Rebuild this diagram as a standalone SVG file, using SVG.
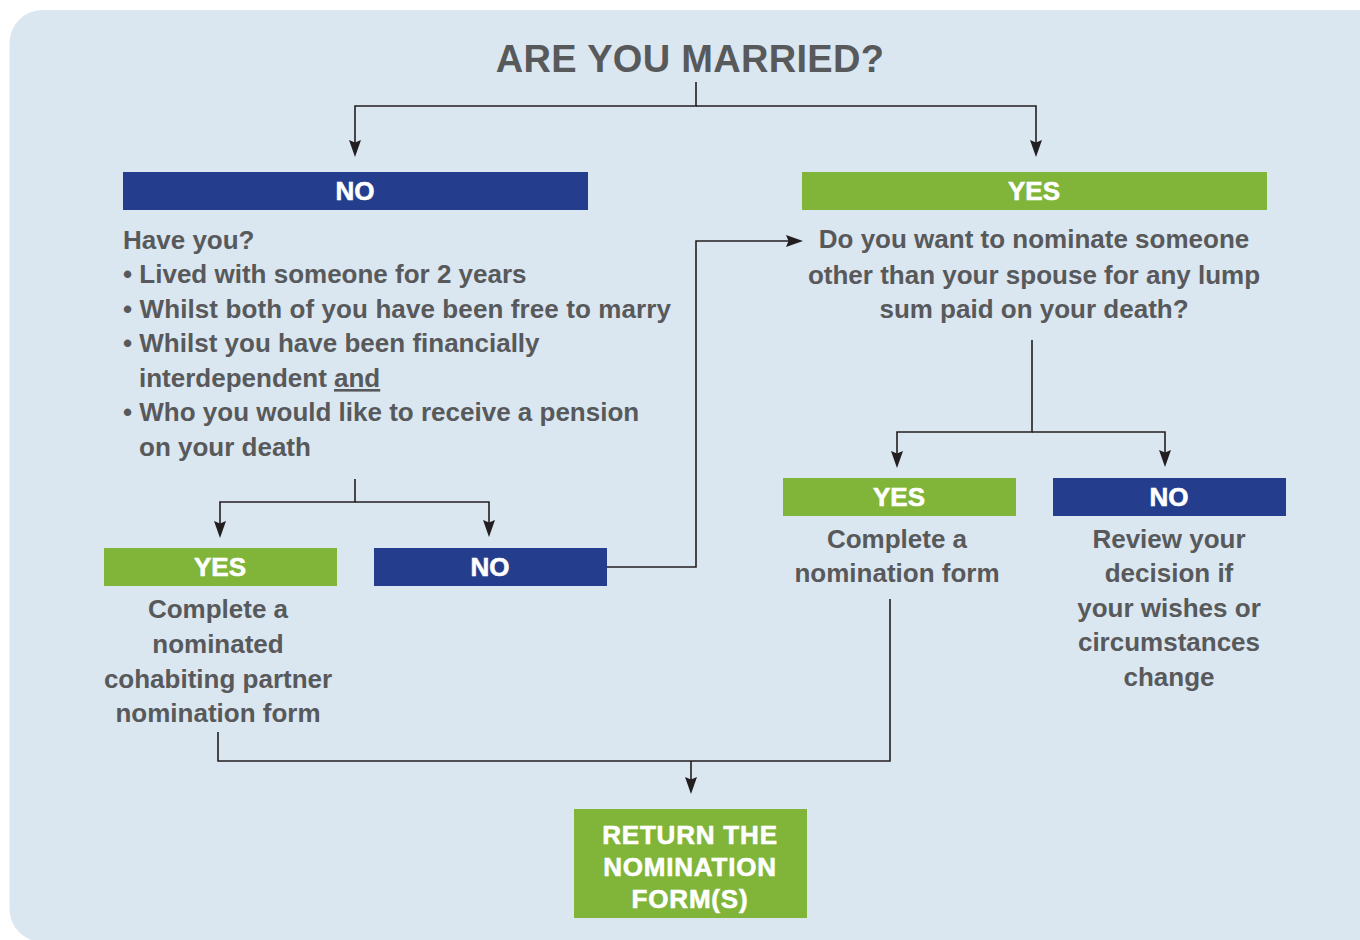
<svg xmlns="http://www.w3.org/2000/svg" width="1360" height="940" viewBox="0 0 1360 940">
<defs>
<style>
.bg{fill:#dae6f0}
.t{font-family:"Liberation Sans",Arial,Helvetica,sans-serif;font-weight:bold;fill:#58595b;font-size:26px}
.c{text-anchor:middle}
.lbl{font-family:"Liberation Sans",Arial,Helvetica,sans-serif;font-weight:bold;fill:#ffffff;stroke:#ffffff;stroke-width:0.6;font-size:26px;text-anchor:middle}
.blue{fill:#243e8d}
.green{fill:#80b539}
.ln{fill:none;stroke:#231f20;stroke-width:1.6}
</style>
<marker id="ah" markerUnits="userSpaceOnUse" markerWidth="17" markerHeight="13" viewBox="0 0 17 13" refX="8" refY="6.5" orient="auto">
<path d="M0,0.5 L17,6.5 L0,12.5 L2.5,6.5 z" fill="#231f20"/>
</marker>
</defs>
<rect class="bg" x="9.5" y="10" width="1380" height="932" rx="33" ry="33"/>

<g id="title">
<text class="t c" x="690" y="72" style="font-size:38px;letter-spacing:0.3px">ARE YOU MARRIED?</text>
</g>

<g id="connectors">
<path class="ln" d="M696,82 V106 H355 V148" marker-end="url(#ah)"/>
<path class="ln" d="M696,106 H1036 V148" marker-end="url(#ah)"/>
<path class="ln" d="M355,479 V502 H220 V529" marker-end="url(#ah)"/>
<path class="ln" d="M355,502 H489 V528" marker-end="url(#ah)"/>
<path class="ln" d="M607,567 H696 V241 H794" marker-end="url(#ah)"/>
<path class="ln" d="M1032,340 V432 H897 V459" marker-end="url(#ah)"/>
<path class="ln" d="M1032,432 H1165 V458" marker-end="url(#ah)"/>
<path class="ln" d="M218,732 V761 H890 V599"/>
<path class="ln" d="M691,761 V785" marker-end="url(#ah)"/>
</g>

<g id="no-married">
<rect class="blue" x="123" y="172" width="465" height="38"/>
<text class="lbl" x="355" y="200">NO</text>
</g>

<g id="have-you">
<text class="t" x="123" y="249">Have you?</text>
<text class="t" x="123" y="283">• Lived with someone for 2 years</text>
<text class="t" x="123" y="318" style="letter-spacing:0.1px">• Whilst both of you have been free to marry</text>
<text class="t" x="123" y="352">• Whilst you have been financially</text>
<text class="t" x="139" y="387">interdependent <tspan style="text-decoration:underline">and</tspan></text>
<text class="t" x="123" y="421">• Who you would like to receive a pension</text>
<text class="t" x="139" y="456">on your death</text>
</g>

<g id="yes-married">
<rect class="green" x="802" y="172" width="465" height="38"/>
<text class="lbl" x="1034" y="200">YES</text>
</g>

<g id="nominate-question">
<text class="t c" x="1034" y="248">Do you want to nominate someone</text>
<text class="t c" x="1034" y="284">other than your spouse for any lump</text>
<text class="t c" x="1034" y="318">sum paid on your death?</text>
</g>

<g id="yes-cohabit">
<rect class="green" x="104" y="548" width="233" height="38"/>
<text class="lbl" x="220" y="576">YES</text>
<text class="t c" x="218" y="618">Complete a</text>
<text class="t c" x="218" y="653">nominated</text>
<text class="t c" x="218" y="688">cohabiting partner</text>
<text class="t c" x="218" y="722">nomination form</text>
</g>

<g id="no-cohabit">
<rect class="blue" x="374" y="548" width="233" height="38"/>
<text class="lbl" x="490" y="576">NO</text>
</g>

<g id="yes-nominate">
<rect class="green" x="783" y="478" width="233" height="38"/>
<text class="lbl" x="899" y="506">YES</text>
<text class="t c" x="897" y="548">Complete a</text>
<text class="t c" x="897" y="582">nomination form</text>
</g>

<g id="no-nominate">
<rect class="blue" x="1053" y="478" width="233" height="38"/>
<text class="lbl" x="1169" y="506">NO</text>
<text class="t c" x="1169" y="548">Review your</text>
<text class="t c" x="1169" y="582">decision if</text>
<text class="t c" x="1169" y="617">your wishes or</text>
<text class="t c" x="1169" y="651">circumstances</text>
<text class="t c" x="1169" y="686">change</text>
</g>

<g id="return-forms">
<rect class="green" x="574" y="809" width="233" height="109"/>
<text class="lbl" x="690" y="844" style="letter-spacing:0.8px">RETURN THE</text>
<text class="lbl" x="690" y="876" style="letter-spacing:0.8px">NOMINATION</text>
<text class="lbl" x="690" y="908" style="letter-spacing:0.8px">FORM(S)</text>
</g>
</svg>
